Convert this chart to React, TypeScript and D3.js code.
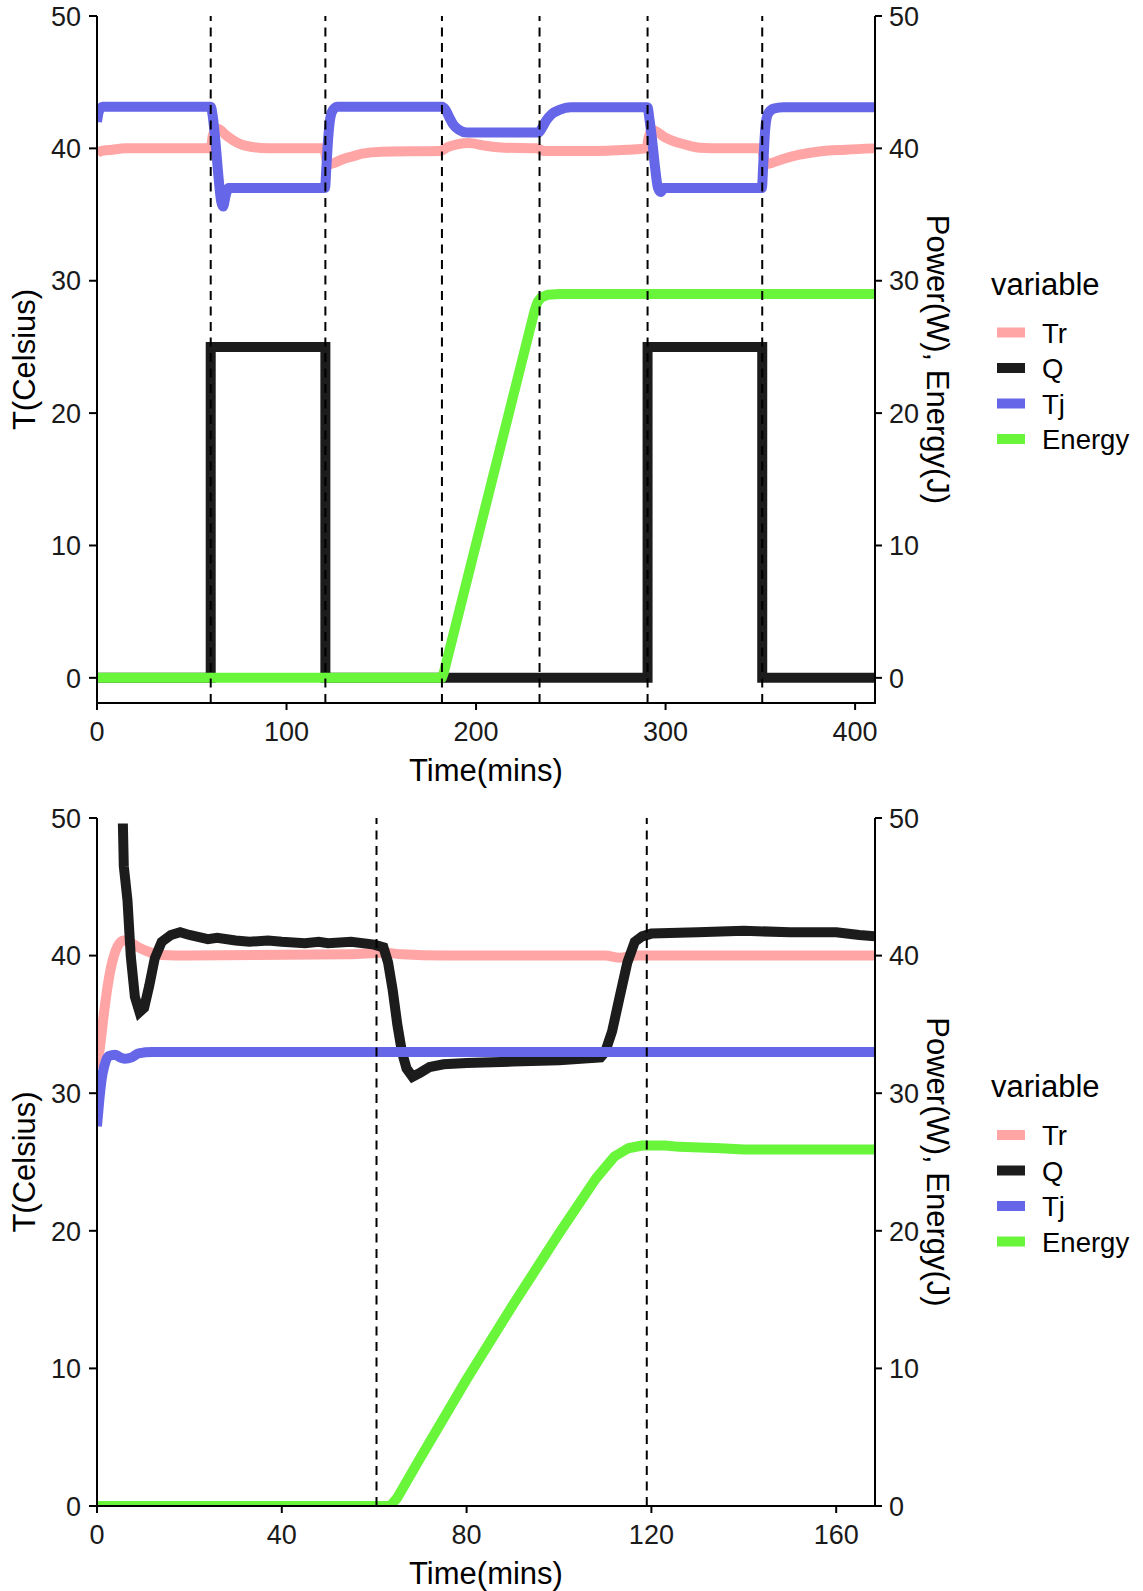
import React from 'react';
import * as d3 from 'd3';

type Pt = [number, number];

const seriesNames = ['Tr', 'Q', 'Tj', 'Energy'];
const seriesColors = ['#FFA5A5', '#1C1C1C', '#6666E8', '#69F53A'];

const yTicks = [0, 10, 20, 30, 40, 50];
const topXTicks = [0, 100, 200, 300, 400];
const bottomXTicks = [0, 40, 80, 120, 160];

const topVLines = [60, 120.5, 182, 233.5, 290.5, 351];
const bottomVLines = [60.5, 119];

const topTr: Pt[] = [
  [0, 39.6], [2, 39.8], [8, 39.9], [15, 40.0], [60, 40.0], [61, 40.9], [63, 41.5], [65, 41.4], [68, 41.0],
  [72, 40.6], [76, 40.3], [82, 40.1], [90, 40.0], [120, 40.0], [121, 39.2], [122.5, 38.8], [125, 38.9],
  [130, 39.2], [135, 39.4], [140, 39.6], [150, 39.75], [181, 39.8], [185, 40.1], [190, 40.3], [196, 40.4],
  [205, 40.2], [215, 40.05], [232, 40.0], [236, 39.8], [260, 39.8], [280, 39.9], [290, 40.0], [291, 40.8],
  [293, 41.4], [296, 41.2], [300, 40.8], [305, 40.5], [310, 40.3], [318, 40.05], [330, 40.0], [350.5, 40.0],
  [352, 39.2], [353.5, 38.8], [356, 38.9], [362, 39.2], [370, 39.5], [380, 39.75], [395, 39.9], [410.5, 40.0],
];
const topQ: Pt[] = [
  [0, 0], [60, 0], [60, 25], [120.5, 25], [120.5, 0], [290.5, 0], [290.5, 25], [351, 25], [351, 0], [410.5, 0],
];
const topTj: Pt[] = [
  [0, 42.0], [1, 42.8], [3, 43.15], [60, 43.15], [61, 42.5], [62.5, 40.5], [64, 38], [65.5, 36], [66.5, 35.6],
  [68, 36.5], [69.5, 37], [120.3, 37], [121, 38.5], [122, 40.8], [123, 42.2], [124.5, 42.9], [127, 43.15],
  [182, 43.15], [184, 42.9], [186, 42.3], [188, 41.8], [191, 41.4], [195, 41.2], [233, 41.2], [235, 41.6],
  [237, 42.1], [240, 42.6], [244, 42.9], [250, 43.1], [290.5, 43.1], [291.5, 42.2], [293, 40.5], [294.5, 38.5],
  [296, 37.0], [297.5, 36.7], [299, 37.0], [350.8, 37.0], [351.6, 39.0], [352.6, 41.5], [354, 42.6], [357, 43.0],
  [362, 43.1], [410.5, 43.1],
];
const topEnergy: Pt[] = [
  [0, 0], [182, 0], [183, 0.4], [231, 27.8], [232.5, 28.4], [234.5, 28.75], [238, 28.95], [244, 29.0], [410.5, 29.0],
];

const bottomTr: Pt[] = [
  [0, 31.8], [0.7, 33.5], [1.5, 35.8], [2.5, 38.2], [3.5, 39.8], [4.5, 40.7], [5.8, 41.1], [7.5, 40.9],
  [9, 40.6], [11, 40.3], [14, 40.05], [20, 40.0], [55, 40.1], [62, 40.2], [66, 40.1], [75, 40.0], [110, 40.0],
  [113, 39.85], [117, 40.0], [168.4, 40.0],
];
const bottomQ: Pt[] = [
  [5.6, 49.6], [5.8, 46.5], [6.6, 44], [7.3, 40], [8.2, 37], [9.2, 35.9], [10.2, 36.2], [11.3, 37.8],
  [12.5, 39.8], [14, 41.0], [16, 41.5], [18, 41.7], [20, 41.5], [24, 41.2], [26, 41.3], [30, 41.1], [33, 41.0],
  [37, 41.1], [40, 41.0], [45, 40.9], [48, 41.0], [50, 40.9], [55, 41.0], [60, 40.8], [62, 40.6], [63, 39.5],
  [64, 37.5], [65, 35], [66, 33], [67, 31.8], [68.3, 31.2], [70, 31.5], [72, 31.9], [75, 32.1], [80, 32.2],
  [90, 32.3], [100, 32.4], [109, 32.6], [110, 33], [111.5, 34.5], [113, 36.8], [114.8, 39.5], [116.4, 41.0],
  [118, 41.4], [120, 41.6], [130, 41.7], [140, 41.8], [150, 41.7], [160, 41.7], [165, 41.5], [168.4, 41.4],
];
const bottomTj: Pt[] = [
  [0, 27.6], [0.5, 29.5], [1, 31], [1.6, 32], [2.5, 32.7], [4, 32.8], [5, 32.6], [6, 32.5], [7.5, 32.6],
  [9, 32.9], [12, 33.0], [168.4, 33.0],
];
const bottomEnergy: Pt[] = [
  [0, 0], [63.5, 0], [65, 0.6], [70, 3.5], [80, 9.2], [90, 14.6], [100, 19.8], [108, 23.8], [112, 25.4],
  [115, 26.0], [118, 26.2], [123, 26.2], [126, 26.1], [135, 26.0], [140, 25.9], [168.4, 25.9],
];

const FONT = '"Liberation Sans", Arial, sans-serif';
const LEFT = 97;
const RIGHT = 875;
const LW = 10;

interface PanelProps {
  id: string;
  top: number;
  bottom: number;
  xMax: number;
  yMin: number;
  xTicks: number[];
  vlines: number[];
  series: Pt[][];
}

function Panel({ id, top, bottom, xMax, yMin, xTicks, vlines, series }: PanelProps) {
  const x = d3.scaleLinear().domain([0, xMax]).range([LEFT, RIGHT]);
  const y = d3.scaleLinear().domain([yMin, 50]).range([bottom, top]);
  const smooth = d3.line<Pt>().x(d => x(d[0])).y(d => y(d[1])).curve(d3.curveMonotoneX);
  const straight = d3.line<Pt>().x(d => x(d[0])).y(d => y(d[1]));
  const midY = (top + bottom) / 2;
  const midX = (LEFT + RIGHT) / 2;
  const legendTop = midY - 68;
  return (
    <g>
      <defs>
        <clipPath id={id}>
          <rect x={LEFT} y={top} width={RIGHT - LEFT} height={bottom - top} />
        </clipPath>
      </defs>
      <g clipPath={`url(#${id})`}>
        {series.map((s, i) => {
          const lin = seriesNames[i] === 'Q' || seriesNames[i] === 'Energy';
          return (
            <path
              key={i}
              d={(lin ? straight(s) : smooth(s)) || ''}
              fill="none"
              stroke={seriesColors[i]}
              strokeWidth={LW}
              strokeLinejoin={seriesNames[i] === 'Q' ? 'miter' : 'round'}
            />
          );
        })}
        {vlines.map((v, i) => (
          <line key={i} x1={x(v)} x2={x(v)} y1={bottom} y2={top} stroke="#000" strokeWidth={2} strokeDasharray="9 6.5" />
        ))}
      </g>
      <line x1={LEFT} x2={LEFT} y1={top} y2={bottom} stroke="#000" strokeWidth={2} />
      <line x1={RIGHT} x2={RIGHT} y1={top} y2={bottom} stroke="#000" strokeWidth={2} />
      <line x1={LEFT - 1} x2={RIGHT + 1} y1={bottom} y2={bottom} stroke="#000" strokeWidth={2} />
      {yTicks.map(t => (
        <g key={t}>
          <line x1={LEFT - 8} x2={LEFT} y1={y(t)} y2={y(t)} stroke="#000" strokeWidth={2} />
          <line x1={RIGHT} x2={RIGHT + 7} y1={y(t)} y2={y(t)} stroke="#000" strokeWidth={2} />
          <text x={LEFT - 16} y={y(t)} dy="0.36em" textAnchor="end" fontSize={27} fill="#1a1a1a">{t}</text>
          <text x={RIGHT + 14} y={y(t)} dy="0.36em" textAnchor="start" fontSize={27} fill="#1a1a1a">{t}</text>
        </g>
      ))}
      {xTicks.map(t => (
        <g key={t}>
          <line x1={x(t)} x2={x(t)} y1={bottom} y2={bottom + 7} stroke="#000" strokeWidth={2} />
          <text x={x(t)} y={bottom + 38} textAnchor="middle" fontSize={27} fill="#1a1a1a">{t}</text>
        </g>
      ))}
      <text x={midX} y={bottom + 78} textAnchor="middle" fontSize={31} fill="#000">Time(mins)</text>
      <text transform={`translate(35,${midY}) rotate(-90)`} textAnchor="middle" fontSize={31} fill="#000">T(Celsius)</text>
      <text transform={`translate(927,${midY}) rotate(90)`} textAnchor="middle" fontSize={31} fill="#000">Power(W), Energy(J)</text>
      <text x={991} y={legendTop + 3} fontSize={31} fill="#000">variable</text>
      {seriesNames.map((n, i) => {
        const ky = legendTop + 41 + i * 35.5;
        return (
          <g key={n}>
            <line x1={997} x2={1025} y1={ky} y2={ky} stroke={seriesColors[i]} strokeWidth={LW} />
            <text x={1042} y={ky + 10} fontSize={27.5} fill="#000">{n}</text>
          </g>
        );
      })}
    </g>
  );
}

export default function App() {
  return (
    <svg
      width={1143}
      height={1591}
      style={{ position: 'absolute', left: 0, top: 0, background: '#fff', fontFamily: FONT }}
    >
      <rect x={0} y={0} width={1143} height={1591} fill="#fff" />
      <Panel
        id="clipTop"
        top={16}
        bottom={703}
        xMax={410.5}
        yMin={-1.9}
        xTicks={topXTicks}
        vlines={topVLines}
        series={[topTr, topQ, topTj, topEnergy]}
      />
      <Panel
        id="clipBottom"
        top={818}
        bottom={1506}
        xMax={168.4}
        yMin={0}
        xTicks={bottomXTicks}
        vlines={bottomVLines}
        series={[bottomTr, bottomQ, bottomTj, bottomEnergy]}
      />
    </svg>
  );
}
